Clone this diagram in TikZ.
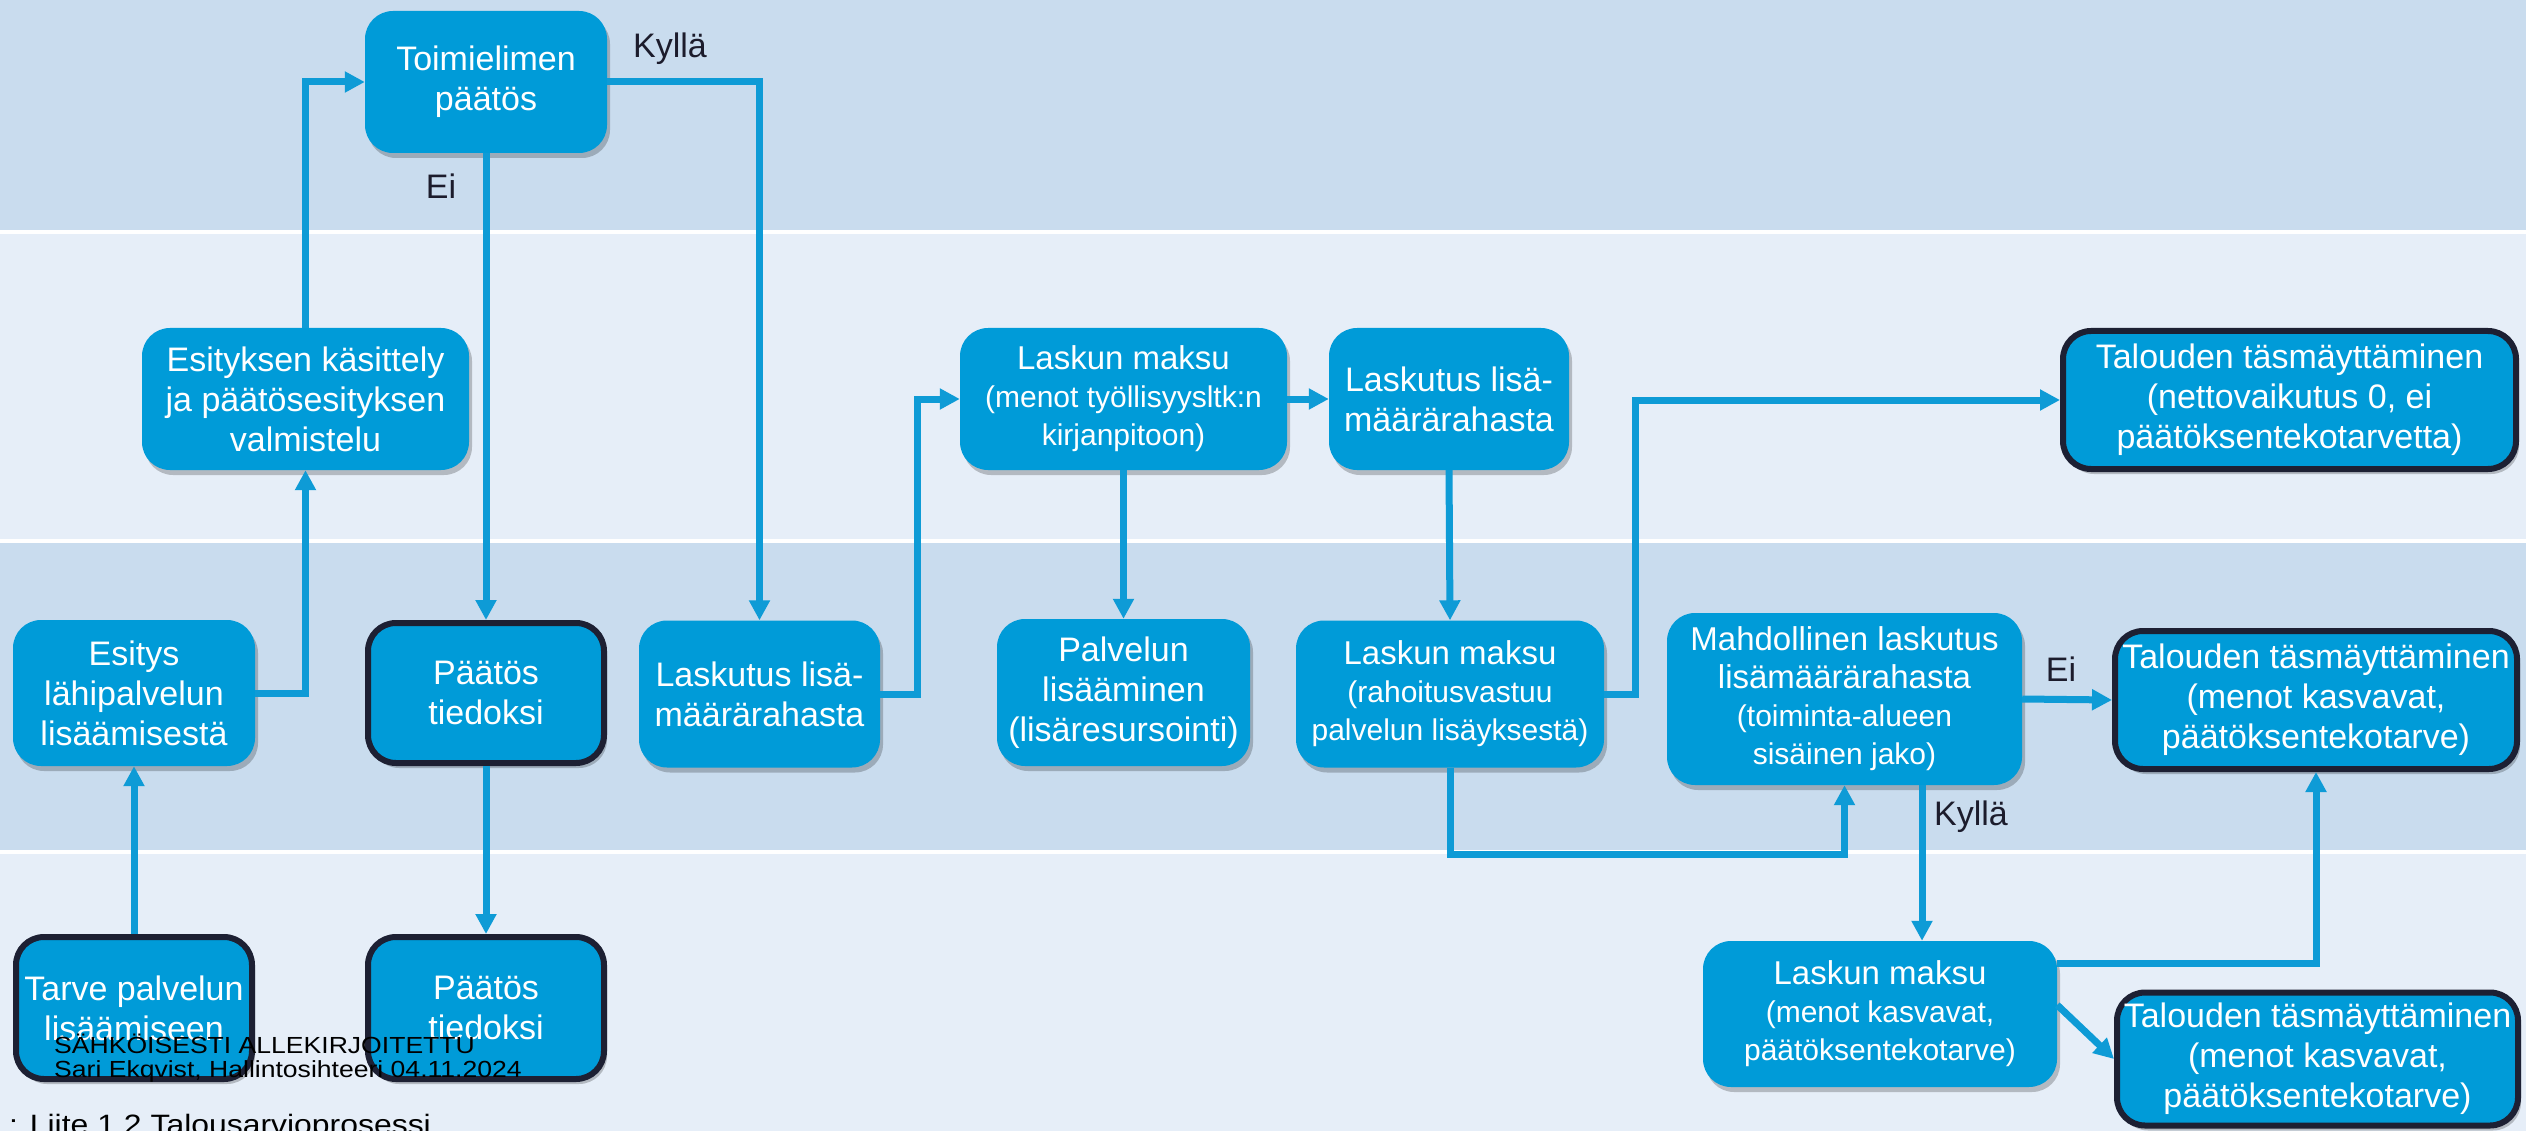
\documentclass[tikz,border=0pt]{standalone}
\usepackage{fontspec}
\usepackage{graphicx}
\setmainfont{Liberation Sans}
\usetikzlibrary{arrows.meta,shadows,calc}
\definecolor{boxblue}{HTML}{009BD8}
\definecolor{lineblue}{HTML}{0E9BD6}
\definecolor{banddark}{HTML}{C9DCEE}
\definecolor{bandlight}{HTML}{E6EEF8}
\definecolor{bordark}{HTML}{1D2033}
\definecolor{labeldark}{HTML}{1C1C2C}
\newcommand\fsz[2]{\fontsize{#1}{#2}\selectfont}
\begin{document}
\begin{tikzpicture}[x=1pt,y=-1pt,
  box/.style={rectangle, rounded corners=28pt, fill=boxblue, text=white, align=center,
    inner sep=0pt, font=\fsz{34}{40},
    drop shadow={shadow xshift=3pt,shadow yshift=-5pt,opacity=0.22,fill=black}},
  endbox/.style={box, draw=bordark, line width=6pt},
  small/.style={font=\fsz{30}{38}},
  conn/.style={draw=lineblue, line width=7pt, -{Triangle[length=20pt,width=20pt]}},
  lbl/.style={text=labeldark, font=\fsz{34}{40}, anchor=base, inner sep=0pt},
  stamp/.style={text=black, anchor=base west, inner sep=0pt}
]
\useasboundingbox (0,0) rectangle (2526,1131);
% bands
\fill[white] (0,0) rectangle (2526,1131);
\fill[banddark] (0,0) rectangle (2526,230);
\fill[bandlight] (0,234) rectangle (2526,539);
\fill[banddark] (0,543) rectangle (2526,850);
\fill[bandlight] (0,854) rectangle (2526,1131);

% nodes
\node[box, minimum width=242pt, minimum height=142pt] (toim) at (486,82) {Toimielimen\\päätös};
\node[box, minimum width=327pt, minimum height=142pt] (esik) at (305.5,399) {Esityksen käsittely\\ja päätösesityksen\\valmistelu};
\node[box, minimum width=242pt, minimum height=146pt] (esit) at (134,693) {Esitys\\lähipalvelun\\lisäämisestä};
\node[endbox, minimum width=236pt, minimum height=140pt] (pt1) at (486,693) {Päätös\\tiedoksi};
\node[box, minimum width=241pt, minimum height=147pt] (las1) at (759.5,694) {Laskutus lisä-\\määrärahasta};
\node[box, small, minimum width=327pt, minimum height=142pt] (lm1) at (1123.5,399) {{\fsz{33}{38}Laskun maksu}\\(menot työllisyysltk:n\\kirjanpitoon)};
\node[box, minimum width=240pt, minimum height=142pt] (las2) at (1449,399) {Laskutus lisä-\\määrärahasta};
\node[box, minimum width=253pt, minimum height=147pt] (palv) at (1123.5,692.5) {Palvelun\\lisääminen\\(lisäresursointi)};
\node[box, small, minimum width=308pt, minimum height=147pt] (lm2) at (1450,694) {{\fsz{33}{38}Laskun maksu}\\(rahoitusvastuu\\palvelun lisäyksestä)};
\node[endbox, minimum width=453pt, minimum height=138pt] (tal1) at (2289.5,400) {Talouden täsmäyttäminen\\(nettovaikutus 0, ei\\päätöksentekotarvetta)};
\node[box, small, minimum width=355pt, minimum height=172pt] (mahd) at (1844.5,699) {{\fsz{33}{38}Mahdollinen laskutus}\\{\fsz{33}{38}lisämäärärahasta}\\(toiminta-alueen\\sisäinen jako)};
\node[endbox, minimum width=402pt, minimum height=138pt] (tal2) at (2316,700) {Talouden täsmäyttäminen\\(menot kasvavat,\\päätöksentekotarve)};
\node[box, small, minimum width=354pt, minimum height=146pt] (lm3) at (1880,1014) {{\fsz{33}{38}Laskun maksu}\\(menot kasvavat,\\päätöksentekotarve)};
\node[endbox, minimum width=401pt, minimum height=133pt] (tal3) at (2317.5,1059) {Talouden täsmäyttäminen\\(menot kasvavat,\\päätöksentekotarve)};
\node[endbox, minimum width=236pt, minimum height=142pt] (tarve) at (134,1008) {Tarve palvelun\\lisäämiseen};
\node[endbox, minimum width=236pt, minimum height=142pt] (pt2) at (486,1008) {Päätös\\tiedoksi};

% connectors
\coordinate (kx) at (1922,0);
\draw[conn] (tarve.north) -- (esit.south);
\draw[conn] (esit.east) -| (esik.south);
\draw[conn] (esik.north) |- (toim.west);
\draw[conn] (toim.east) -| (las1.north);
\draw[conn] (toim.south) -- (pt1.north);
\draw[conn] (pt1.south) -- (pt2.north);
\draw[conn] (las1.east) -- ++(37,0) |- (lm1.west);
\draw[conn] (lm1.east) -- (las2.west);
\draw[conn] (lm1.south) -- (palv.north);
\draw[conn] (las2.south) -- (lm2.north);
\draw[conn] (lm2.east) -- ++(31,0) |- (tal1.west);
\draw[conn] (lm2.south) -- ++(0,87) -| (mahd.south);
\draw[conn] (mahd.east) -- (tal2.west);
\draw[conn] (mahd.south -| kx) -- (lm3.north -| kx);
\draw[conn] ([yshift=51pt]lm3.east) -| (tal2.south);
\draw[conn] ([yshift=9pt]lm3.east) -- (tal3.west);

% labels
\node[lbl] (ky1) at (670,58) {Kyllä};
\node[lbl] (ei1) at (441,199) {Ei};
\node[lbl] (ei2) at (2061,681) {Ei};
\node[lbl] (ky2) at (1971,825) {Kyllä};

% stamp
\node[stamp] (s1) at (54,1053) {\scalebox{1.14}[1]{\fsz{23.3}{28}SÄHKÖISESTI ALLEKIRJOITETTU}};
\node[stamp] (s2) at (54,1077) {\scalebox{1.14}[1]{\fsz{23.3}{28}Sari Ekqvist, Hallintosihteeri 04.11.2024}};
\node[stamp] (s3) at (9,1134) {\scalebox{1.14}[1]{\fsz{28}{32}: Liite 1.2 Talousarvioprosessi}};
\end{tikzpicture}
\end{document}
